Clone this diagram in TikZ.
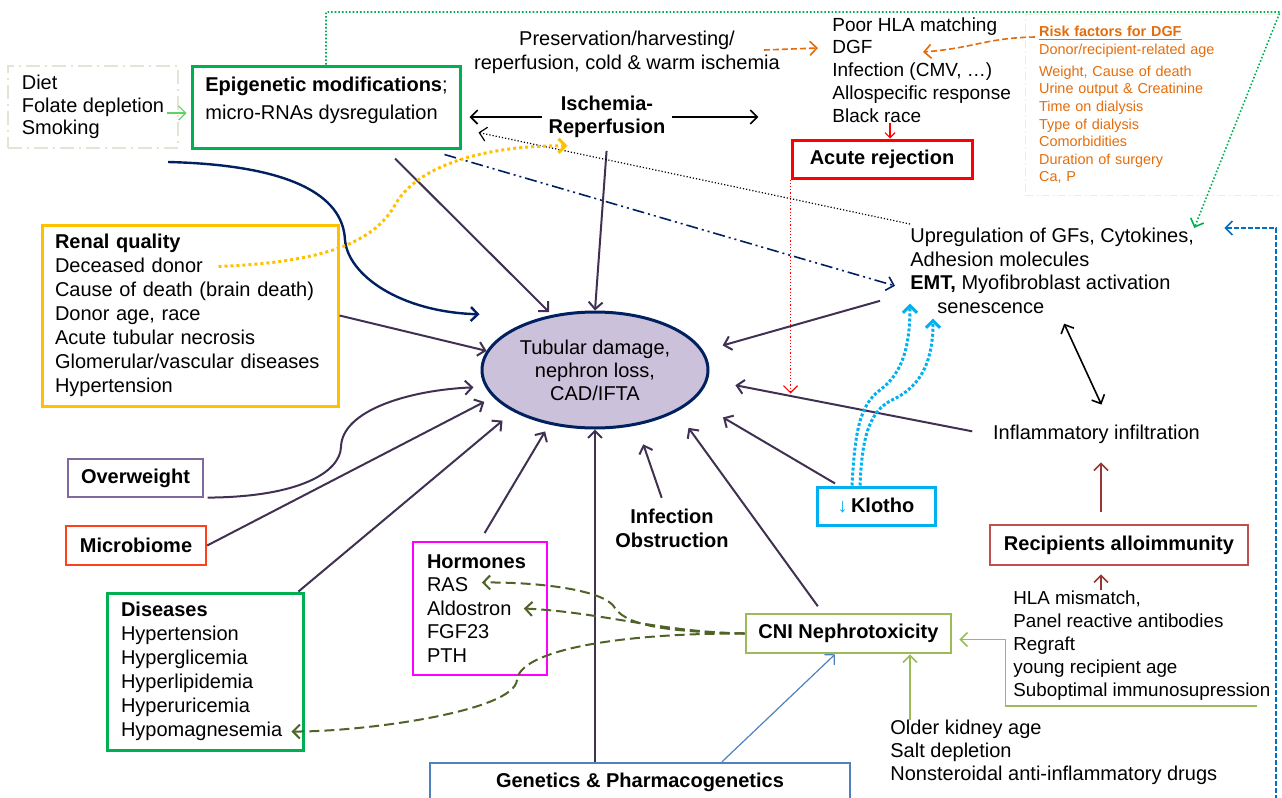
\documentclass[tikz,border=0pt]{standalone}
\usepackage{fontspec}
\setmainfont{Liberation Sans}
\usepackage{xcolor}
\usepackage{tikz}
\usetikzlibrary{arrows.meta,shapes.geometric}

\definecolor{causeline}{HTML}{403152}
\definecolor{navyline}{HTML}{002060}
\definecolor{corefill}{HTML}{CCC1DA}
\definecolor{epigreen}{HTML}{00B050}
\definecolor{renalgold}{HTML}{FFC000}
\definecolor{weightviolet}{HTML}{7F6A9F}
\definecolor{microred}{HTML}{FF4019}
\definecolor{hormonepink}{HTML}{FF00FF}
\definecolor{geneblue}{HTML}{4F81BD}
\definecolor{cnigreen}{HTML}{9BBB59}
\definecolor{klothocyan}{HTML}{00B0F0}
\definecolor{recipred}{HTML}{C0504D}
\definecolor{recipdark}{HTML}{953735}
\definecolor{dgforange}{HTML}{E46C0A}
\definecolor{dietgrey}{HTML}{E6E2D4}
\definecolor{riskgrey}{HTML}{EEEDE2}
\definecolor{hormonolive}{HTML}{4F6228}
\definecolor{dietgreen}{HTML}{5FD35F}
\definecolor{returnblue}{HTML}{0070C0}

\begin{document}
\begin{tikzpicture}[x=0.5pt, y=-0.5pt, >={Straight Barb[length=3.5pt,width=7pt]},
	every node/.style={font=\fontsize{10}{12}\selectfont},
	box/.style={draw, inner sep=0pt, font=\bfseries\fontsize{10}{12}\selectfont},
	listbox/.style={draw, inner ysep=0pt, align=left},
	list/.style={anchor= north west, inner sep=0pt, align=left},
	cause/.style={->, causeline, line width=1pt},
	olivedash/.style={->, hormonolive, line width=1pt, dash pattern=on 5pt off 2.5pt},
	orangedash/.style={->, dgforange, line width=0.8pt, dash pattern=on 3pt off 1.5pt},
	cyandot/.style={->, klothocyan, line width=1.5pt, dash pattern=on 1.5pt off 1pt}]
	\useasboundingbox (0,0) rectangle (1282,798);

	\node[listbox, draw=dietgrey, line width=1pt, dash pattern=on 7pt off 2.5pt on 1pt off 2.5pt, minimum width=85pt, minimum height=41pt, inner xsep=7pt, font=\fontsize{10}{11.25}\selectfont] (diet) at (93,107) {Diet\\Folate depletion\\Smoking};
	\node[draw=epigreen, line width=1.5pt, minimum width=134pt, minimum height=41pt] (epi) at (326,107) {};
	\node[list] (epitext) at (205,77) {\textbf{Epigenetic modifications};\\[2pt]micro-RNAs dysregulation};
	\node[listbox, draw=renalgold, line width=1.5pt, minimum width=148pt, minimum height=90.5pt, text width=135pt, inner xsep=6.5pt] (renal) at (190,315.5) {\textbf{Renal quality}\\Deceased donor\\Cause of death (brain death)\\Donor age, race\\Acute tubular necrosis\\Glomerular/vascular diseases\\Hypertension};
	\node[box, draw=weightviolet, line width=0.6pt, minimum width=67.5pt, minimum height=19pt] (weight) at (135.5,478) {Overweight};
	\node[box, draw=microred, line width=1.2pt, minimum width=70pt, minimum height=19.5pt] (micro) at (136,545.5) {Microbiome};
	\node[listbox, draw=epigreen, line width=1.5pt, minimum width=98pt, minimum height=78.5pt, text width=84pt, inner xsep=7pt] (disease) at (205,671.5) {\textbf{Diseases}\\Hypertension\\Hyperglicemia\\Hyperlipidemia\\Hyperuricemia\\Hypomagnesemia};
	\node[listbox, draw=hormonepink, line width=1.2pt, minimum width=67pt, minimum height=66.5pt, text width=53pt, inner xsep=7pt, font=\fontsize{10}{11.75}\selectfont] (hormone) at (480,608.5) {\textbf{Hormones}\\RAS\\Aldostron\\FGF23\\PTH};
	\node[box, draw=geneblue, line width=1.2pt, minimum width=210pt, minimum height=19.5pt] (gene) at (640,782.5) {Genetics \& Pharmacogenetics};
	\node[box, draw=cnigreen, line width=1.3pt, minimum width=102.5pt, minimum height=19.5pt] (cni) at (848.5,633.5) {CNI Nephrotoxicity};
	\node[box, draw=klothocyan, line width=1.5pt, minimum width=59pt, minimum height=19pt] (klotho) at (876,506) {{\mdseries\color{klothocyan}↓}\,Klotho};
	\node[box, draw=recipred, line width=1.3pt, minimum width=129pt, minimum height=20pt] (recip) at (1119,545) {Recipients alloimmunity};
	\node[box, draw=red, line width=1.5pt, minimum width=90pt, minimum height=19pt] (acute) at (882,159) {Acute rejection};
	\node[listbox, draw=riskgrey, line width=0.6pt, dash pattern=on 4pt off 1.5pt on 1pt off 1.5pt, anchor= north west, minimum width=132.5pt, minimum height=90.5pt, text width=119pt, inner xsep=6.5pt, text=dgforange, font=\fontsize{7.2}{8.8}\selectfont] (risk) at (1025,14) {\underline{\textbf{Risk factors for DGF}}\\Donor/recipient-related age\\[2.2pt]Weight,\ Cause of death\\Urine output \& Creatinine\\Time on dialysis\\Type of dialysis\\Comorbidities\\Duration of surgery\\Ca, P};
	\node[ellipse, draw=navyline, fill=corefill, line width=1.5pt, inner sep=0pt, minimum width=113pt, minimum height=58pt, align=center, font=\fontsize{10}{11.5}\selectfont] (core) at (595,370) {Tubular damage,\\nephron loss,\\CAD/IFTA};

	\node[align=center] (pres) at (627,52) {Preservation/harvesting/\\reperfusion, cold \& warm ischemia};
	\node[align=center, font=\bfseries\fontsize{10}{11.5}\selectfont] (isch) at (607,117) {Ischemia-\\Reperfusion};
	\node[list, font=\fontsize{9.5}{11.4}\selectfont] (dgf) at (832,17) {Poor HLA matching\\DGF\\Infection (CMV, …)\\Allospecific response\\Black race};
	\node[list, font=\fontsize{10}{11.7}\selectfont] (upreg) at (910,228) {Upregulation of GFs, Cytokines,\\Adhesion molecules\\\textbf{EMT,} Myofibroblast activation\\\hspace*{13.5pt}senescence};
	\node[anchor= west] (infl) at (986,434) {Inflammatory infiltration};
	\node[list, font=\fontsize{9.4}{11.5}\selectfont] (hla) at (1013,590) {HLA mismatch,\\Panel reactive antibodies\\Regraft\\young recipient age\\Suboptimal immunosupression};
	\node[list, font=\fontsize{10}{11.5}\selectfont] (older) at (890,720) {Older kidney age\\Salt depletion\\Nonsteroidal anti-inflammatory drugs};
	\node[align=center, font=\bfseries\fontsize{10}{12}\selectfont] (infob) at (672,528) {Infection\\Obstruction};
	\coordinate (gcorner) at (1280,12);
	\coordinate (bstart) at (1276,800);

	\draw[->, dietgreen, line width=0.6pt] ([shift={(-12,6)}]diet.east) -- ([shift={(-4,6)}]epi.west);
	\draw[->, black, line width=0.8pt, shorten >=4pt] (isch.west) -- (isch.west -| epi.east);
	\draw[->, black, line width=0.8pt] (isch.east) -- ++(86,0);
	\draw[cause, shorten <=3pt] (isch.south) -- (core.north);
	\draw[cause, shorten >=2pt] ([shift={(69,9)}]epi.south) -- (core.128);
	\draw[->, navyline, line width=1.2pt] ([shift={(-11,13)}]diet.south east) .. controls (290,165) and (343,195) .. (345,240) .. controls (348,275) and (400,312) .. ([shift={(-32,-15)}]core.154);
	\draw[cause] (renal.east) -- (core.170);
	\draw[cause] ([xshift=2pt]weight.south east) .. controls (300,497) and (340,472) .. (341,447) .. controls (342,410) and (410,390) .. ([xshift=-6pt]core.189);
	\draw[cause, shorten >=5pt] (micro.east) -- (core.195);
	\draw[cause, shorten >=7pt] ([xshift=-3pt]disease.north east) -- (core.207);
	\draw[cause, shorten <=4.5pt, shorten >=4pt] (hormone.north) -- (core.230);
	\draw[cause] (core.south |- gene.north) -- (core.south);
	\draw[cause, shorten <=2pt, shorten >=10pt] ([xshift=-4.5pt]infob.north) -- (core.307);
	\draw[cause, shorten <=4pt, shorten >=10pt] ([xshift=-13pt]cni.north) -- (core.333);
	\draw[cause, shorten <=2pt, shorten >=17pt] ([xshift=11.5pt]klotho.north west) -- (core.343);
	\draw[cause, shorten <=7pt, shorten >=14pt] (infl.west) -- (core.355);
	\draw[cause, shorten >=10pt] ([shift={(-30,30)}]upreg.west) -- (core.10);

	\draw[->, navyline, line width=0.8pt, dash pattern=on 6pt off 2pt on 1pt off 2pt on 1pt off 2pt] ([shift={(-17,5)}]epi.south east) -- ([shift={(-15,15)}]upreg.west);
	\draw[->, black, line width=0.6pt, densely dotted] ([yshift=2pt]upreg.north west) -- ([shift={(17,-17)}]epi.south east);
	\draw[->, renalgold, line width=1.5pt, dash pattern=on 1.5pt off 1.5pt] ([shift={(178,43)}]renal.north west) .. controls (330,262) and (375,240) .. (395,205) .. controls (420,160) and (500,145) .. ([shift={(26,1)}]isch.south west);
	\draw[->, epigreen, line width=0.8pt, densely dotted] (epi.north) |- (gcorner) -- (upreg.north east);
	\draw[->, returnblue, line width=0.8pt, dash pattern=on 2.5pt off 1pt] (bstart) |- ([xshift=15pt]upreg.north east);
	\draw[cyandot] ([xshift=-12pt]klotho.north) .. controls (855,430) and (860,405) .. (880,390) .. controls (905,372) and (910,340) .. ([yshift=5pt]upreg.south west);
	\draw[cyandot] ([xshift=-8pt]klotho.north) .. controls (862,440) and (868,412) .. (892,400) .. controls (925,385) and (933,355) .. ([shift={(23,5)}]upreg.south west);
	\draw[<->, black, line width=0.8pt] ([shift={(12,10)}]upreg.south) -- ([shift={(5,-13)}]infl.north);

	\draw[->, red, line width=0.6pt, densely dotted] (acute.south west) -- ++(0,214);
	\draw[-{Straight Barb[length=2.5pt,width=5pt]}, red, line width=0.6pt] ([xshift=4pt]acute.north |- dgf.south) -- ([xshift=4pt]acute.north);
	\draw[orangedash] ([shift={(-23,-2)}]pres.east) -- ([shift={(-14,31)}]dgf.north west);
	\draw[orangedash] ([shift={(10,23)}]risk.north west) .. controls (985,38) and (975,48) .. ([shift={(91,35)}]dgf.north west);

	\draw[olivedash] (cni.west) .. controls (680,632) and (628,628) .. (615,608) .. controls (605,590) and (540,582) .. ([shift={(70,-26)}]hormone.west);
	\draw[olivedash] (cni.west) .. controls (660,632) and (600,612) .. ([shift={(112,0)}]hormone.west);
	\draw[olivedash] (cni.west) .. controls (620,633) and (520,650) .. (517,680) .. controls (514,712) and (360,732) .. ([shift={(-13,60)}]disease.east);
	\draw[->, cnigreen, line width=0.8pt] ([xshift=30.75pt]cni.south |- older.north) -- ([xshift=30.75pt]cni.south);
	\draw[->, cnigreen, line width=0.8pt] ([shift={(244,116)}]hla.north west) -| ([shift={(53,6)}]cni.east) -- ([shift={(7,6)}]cni.east);
	\draw[->, geneblue, line width=0.6pt] ([xshift=41pt]gene.north) -- ([xshift=-6.75pt]cni.south);
	\draw[->, recipdark, line width=0.8pt, shorten <=6pt, shorten >=6pt] ([xshift=-9pt]recip.north) -- ([xshift=-9pt]recip.north |- infl.south);
	\draw[->, recipdark, line width=0.8pt, shorten >=4pt] ([xshift=-9pt]recip.south |- hla.north) -- ([xshift=-9pt]recip.south);
\end{tikzpicture}
\end{document}
